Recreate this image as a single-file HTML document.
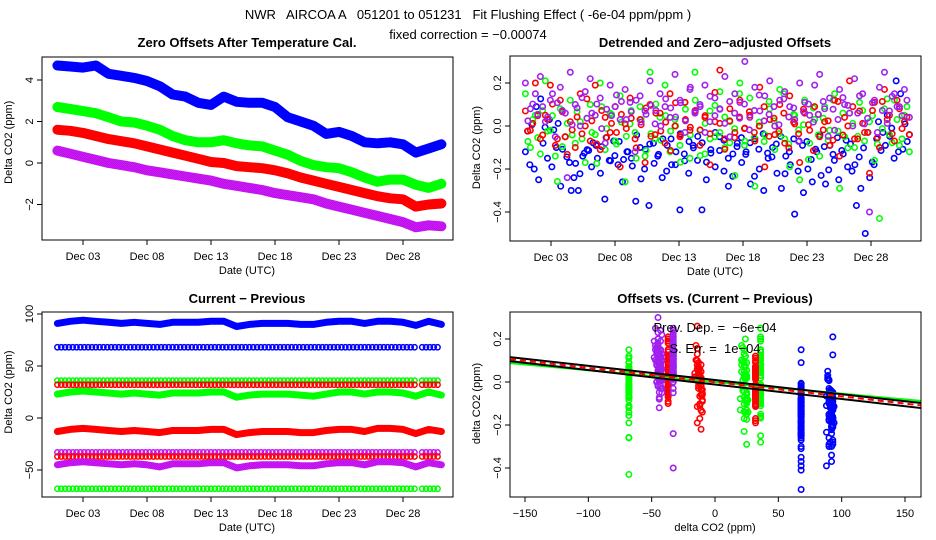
<!DOCTYPE html>
<html><head><meta charset="utf-8"><style>
body{margin:0;background:#fff}
svg{display:block;font-family:"Liberation Sans",sans-serif}
</style></head><body>
<svg id="c" width="936" height="540" viewBox="0 0 936 540">
<defs>
<pattern id="hatch" width="2" height="2" patternUnits="userSpaceOnUse"><rect width="2" height="2" fill="#ff00ff"/><rect width="1" height="1" fill="#8a2be2"/><rect x="1" y="1" width="1" height="1" fill="#8a2be2"/></pattern>
</defs>
<text x="468" y="19" font-size="13" text-anchor="middle" style="white-space:pre">NWR   AIRCOA A   051201 to 051231   Fit Flushing Effect ( -6e-04 ppm/ppm )</text>
<text x="468" y="39" font-size="13" text-anchor="middle">fixed correction = −0.00074</text>
<text x="247" y="47" font-size="13" font-weight="bold" text-anchor="middle">Zero Offsets After Temperature Cal.</text>
<text x="715" y="47" font-size="13" font-weight="bold" text-anchor="middle">Detrended and Zero−adjusted Offsets</text>
<text x="247" y="303" font-size="13" font-weight="bold" text-anchor="middle">Current − Previous</text>
<text x="715" y="303" font-size="13" font-weight="bold" text-anchor="middle">Offsets vs. (Current − Previous)</text>
</svg>
<script>
const days=[1,2,3,4,5,6,7,8,9,10,11,12,13,14,15,16,17,18,19,20,21,22,23,24,25,26,27,28,29,30,31];
const dateTicks=[3,8,13,18,23,28];
const dateTickLabels=["Dec 03","Dec 08","Dec 13","Dec 18","Dec 23","Dec 28"];
const p1Blue=[4.7,4.65,4.6,4.7,4.3,4.2,4.1,3.95,3.7,3.3,3.2,2.9,2.8,3.2,2.95,2.9,2.9,2.7,2.2,2.0,1.8,1.4,1.5,1.3,1.0,0.95,1.0,0.9,0.5,0.7,0.9];
const p1Green=[2.7,2.6,2.5,2.4,2.2,2.0,1.95,1.8,1.6,1.3,1.1,1.0,1.0,1.1,0.95,0.85,0.8,0.6,0.4,0.1,-0.1,-0.2,-0.25,-0.45,-0.7,-0.9,-0.8,-0.8,-1.05,-1.2,-1.0];
const p1Red=[1.6,1.55,1.45,1.3,1.15,1.05,0.95,0.8,0.65,0.5,0.35,0.2,0.05,0.0,-0.15,-0.2,-0.25,-0.35,-0.5,-0.7,-0.85,-1.0,-1.15,-1.3,-1.45,-1.6,-1.7,-1.75,-2.1,-2.0,-1.95];
const p1Purple=[0.6,0.45,0.3,0.15,0.0,-0.1,-0.2,-0.35,-0.45,-0.55,-0.65,-0.75,-0.85,-1.0,-1.1,-1.2,-1.3,-1.45,-1.55,-1.65,-1.75,-1.95,-2.1,-2.25,-2.4,-2.55,-2.7,-2.85,-3.1,-3.0,-3.05];
const p1Ticks=[-2,0,2,4];
const p2Ticks=[-0.4,-0.2,0.0,0.2];
const p2TickLabels=["−0.4","−0.2","0.0","0.2"];
const resBlue=[-0.12,-0.18,-0.20,-0.25,-0.08,-0.15,-0.19,-0.10,-0.28,-0.05,-0.17,-0.24,-0.30,-0.14,-0.11,-0.19,-0.09,-0.22,-0.34,-0.16,-0.07,-0.18,-0.26,-0.12,-0.15,-0.35,-0.10,-0.20,-0.37,-0.08,-0.14,-0.24,-0.21,-0.06,-0.18,-0.39,-0.13,-0.22,-0.09,-0.16,-0.39,-0.25,-0.11,-0.19,-0.05,-0.21,-0.28,-0.13,-0.08,-0.17,-0.12,-0.27,-0.06,-0.20,-0.30,-0.15,-0.10,-0.22,-0.29,-0.14,-0.18,-0.41,-0.07,-0.31,-0.20,-0.26,-0.12,-0.23,-0.27,-0.09,-0.16,-0.25,-0.13,-0.19,-0.21,-0.37,-0.29,-0.50,-0.24,-0.18,0.02,-0.03,0.05,-0.01,0.21,0.15,0.01,-0.04];
const resGreen=[0.15,-0.10,0.05,-0.13,0.21,-0.02,-0.14,0.08,-0.05,0.12,-0.08,0.02,-0.17,0.10,-0.04,0.20,-0.11,0.06,-0.07,0.14,-0.26,0.01,-0.03,0.09,-0.14,0.25,-0.06,0.04,0.19,-0.12,0.03,-0.09,0.11,-0.15,0.25,-0.02,-0.13,0.07,-0.05,0.16,-0.10,0.02,-0.23,0.20,-0.07,0.13,-0.28,0.00,-0.04,0.08,-0.11,0.17,-0.06,-0.19,0.05,-0.25,0.12,-0.08,0.03,-0.14,0.09,-0.02,0.15,-0.29,-0.05,0.06,-0.10,0.11,-0.07,0.02,-0.16,-0.43,0.08,-0.04,0.12,-0.09,0.05,-0.12];
const resRed=[0.07,-0.02,0.20,-0.06,0.05,0.19,-0.09,0.12,-0.05,0.02,-0.10,0.15,0.00,-0.07,0.19,-0.11,0.04,-0.03,0.09,-0.19,0.01,0.13,-0.06,0.03,-0.17,0.10,-0.04,0.06,-0.08,0.15,0.00,-0.05,0.11,-0.02,0.07,-0.09,0.04,-0.18,0.02,0.26,-0.06,0.08,-0.03,0.12,-0.01,0.05,-0.07,0.18,-0.19,0.03,-0.04,0.10,-0.08,0.14,0.01,-0.17,0.06,-0.02,0.09,-0.05,0.02,-0.09,0.12,-0.14,0.04,0.21,-0.06,0.07,-0.03,-0.22,0.11,-0.10,0.17,0.05,-0.07,0.08,0.02,-0.04];
const resPurple=[0.20,0.08,0.15,0.23,0.02,0.12,-0.05,0.18,0.06,0.25,0.10,0.00,0.16,0.22,0.05,0.13,-0.08,0.19,0.09,0.03,0.17,0.11,-0.12,0.14,0.07,0.21,0.01,0.15,0.09,0.04,0.24,0.12,-0.03,0.17,0.06,0.10,0.19,0.02,0.13,0.08,0.23,-0.05,0.15,0.11,0.30,0.04,0.18,0.07,0.14,0.21,0.00,0.12,0.16,0.09,0.03,0.20,0.11,0.05,0.19,0.24,0.08,0.13,-0.02,0.17,0.10,0.06,0.22,0.14,0.01,-0.40,0.12,0.18,0.25,0.07,0.15,0.09,0.17,0.04];
const p3Blue=[91,93,94,93,92,91,92,91,90,92,92,92,93,93,88,90,91,91,91,90,90,92,93,93,91,93,93,92,89,93,90];
const p3Green=[23,25,26,25,24,23,24,23,22,24,24,24,25,25,20,22,23,23,23,22,21,23,25,25,23,25,25,24,21,25,22];
const p3Red=[-13,-11,-10,-11,-12,-13,-12,-13,-14,-12,-12,-12,-11,-11,-16,-14,-13,-13,-13,-14,-14,-12,-11,-11,-13,-10,-10,-11,-15,-11,-13];
const p3Purple=[-45,-43,-42,-43,-44,-45,-44,-45,-47,-44,-44,-44,-43,-43,-48,-46,-45,-45,-45,-46,-46,-44,-43,-43,-45,-42,-42,-43,-47,-43,-45];
const constLevels=[68,36,32,-33,-37,-68];
const constColors=["#0000ff","#00ff00","#ff0000","url(#hatch)","#ff0000","#00ff00"];
const p3Ticks=[-50,0,50,100];
const p4XTicks=[-150,-100,-50,0,50,100,150];
const p4XTickLabels=["−150","−100","−50","0","50","100","150"];
const fitSlopes=[-5.4e-4,-6.56e-4,-6.7e-4,-6.6e-4];
const fitIntercepts=[0.0,0.009,-0.012,-0.001];
const fitColors=["#00ff00","#000","#000","#ff0000"];

const svg=document.getElementById('c');
const NS='http://www.w3.org/2000/svg';
function mk(tag,attrs,parent){const e=document.createElementNS(NS,tag);for(const k in attrs)e.setAttribute(k,attrs[k]);(parent||svg).appendChild(e);return e;}
function dateX(L){return d=>L+41+(d-3)*12.8;}
function linear(d0,d1,r0,r1){return v=>r0+(v-d0)*(r1-r0)/(d1-d0);}

function frame(L,T,R,B,name){
  const r=mk('rect',{x:L,y:T,width:R-L,height:B-T,fill:'none',stroke:'#000','stroke-width':1});
  
  
}
function yAxis(L,ticks,labels,ys,name,title){
  const g=mk('g',{});
  
  
  ticks.forEach((t,i)=>{const y=ys(t);
    mk('line',{x1:L-5,x2:L,y1:y,y2:y,stroke:'#000'},g);
    const tx=mk('text',{x:0,y:0,'font-size':11,'text-anchor':'middle',transform:`translate(${L-9},${y}) rotate(-90)`},g);
    tx.textContent=labels?labels[i]:String(t).replace('-','−');
  });
  const tt=mk('text',{'font-size':11,'text-anchor':'middle',transform:`translate(${L-30},${(ys(ticks[0])+ys(ticks[ticks.length-1]))/2}) rotate(-90)`},g);
  
  
  tt.textContent=title;
  return tt;
}
function xAxis(B,ticks,labels,xs,name,title,cx){
  const g=mk('g',{});
  
  
  ticks.forEach((t,i)=>{const x=xs(t);
    mk('line',{x1:x,x2:x,y1:B,y2:B+5,stroke:'#000'},g);
    const tx=mk('text',{x:x,y:B+20,'font-size':11,'text-anchor':'middle'},g);
    tx.textContent=labels[i];
  });
  const tt=mk('text',{x:cx,y:B+34,'font-size':11,'text-anchor':'middle'},g);
  
  
  tt.textContent=title;
}
// Panel 1
(function(){
  const L=42,T=57,R=453,B=240;const xs=dateX(L);const ys=linear(0,4,163,80);
  [[p1Purple,'url(#hatch)','purple'],[p1Red,'#ff0000','red'],[p1Green,'#00ff00','green'],[p1Blue,'#0000ff','blue']].forEach(([arr,col,n])=>{
    const pts=arr.map((v,i)=>xs(days[i]).toFixed(1)+','+ys(v).toFixed(1)).join(' ');
    const pl=mk('polyline',{points:pts,fill:'none',stroke:col,'stroke-width':10,'stroke-linejoin':'round','stroke-linecap':'round'});
    
    
  });
  frame(L,T,R,B,'panel1');
  yAxis(L,p1Ticks,null,ys,'panel1','Delta CO2 (ppm)');
  xAxis(B,dateTicks,dateTickLabels,xs,'panel1','Date (UTC)',247);
})();
// Panel 2
(function(){
  const L=510,T=56,R=921,B=241;const xs=dateX(L);const ys=linear(0,0.2,126,83);
  [[resBlue,'#0000ff','blue'],[resGreen,'#00ff00','green'],[resRed,'#ff0000','red'],[resPurple,'#a020f0','purple']].forEach(([arr,col,n])=>{
    const g=mk('g',{});
    
    
    const N=arr.length;
    arr.forEach((v,i)=>{const d=1+30*i/(N-1);
      mk('circle',{cx:xs(d),cy:ys(v),r:2.7,fill:'none',stroke:col,'stroke-width':1.6},g);
      const w=arr[N-1-i];const d2=1+30*(i+0.5)/N;
      mk('circle',{cx:xs(d2),cy:ys(w*0.6),r:2.7,fill:'none',stroke:col,'stroke-width':1.6},g);});
  });
  frame(L,T,R,B,'panel2');
  yAxis(L,p2Ticks,p2TickLabels,ys,'panel2','Delta CO2 (ppm)');
  xAxis(B,dateTicks,dateTickLabels,xs,'panel2','Date (UTC)',715);
})();
// Panel 3
(function(){
  const L=42,T=312,R=453,B=497;const xs=dateX(L);const ys=linear(0,50,418,366);
  constLevels.forEach((lv,j)=>{
    const g=mk('g',{});
    
    
    for(let d=1;d<=31;d+=0.3){ if(d>29.1&&d<29.5)continue;
      mk('circle',{cx:xs(d),cy:ys(lv),r:2.6,fill:'none',stroke:constColors[j],'stroke-width':1.5},g);}
  });
  [[p3Blue,'#0000ff','blue'],[p3Green,'#00ff00','green'],[p3Red,'#ff0000','red'],[p3Purple,'url(#hatch)','purple']].forEach(([arr,col,n])=>{
    const pts=arr.map((v,i)=>xs(days[i]).toFixed(1)+','+ys(v).toFixed(1)).join(' ');
    const pl=mk('polyline',{points:pts,fill:'none',stroke:col,'stroke-width':7,'stroke-linejoin':'round','stroke-linecap':'round'});
    
    
  });
  frame(L,T,R,B,'panel3');
  yAxis(L,p3Ticks,["−50","0","50","100"],ys,'panel3','Delta CO2 (ppm)');
  xAxis(B,dateTicks,dateTickLabels,xs,'panel3','Date (UTC)',247);
})();
// Panel 4
(function(){
  const L=510,T=312,R=921,B=497;const xs=linear(0,150,715,905);const ys=linear(0,0.2,382,339);
  const groups=[[resBlue,p3Blue,[null,68],'#0000ff','blue'],[resGreen,p3Green,[null,36,-68],'#00ff00','green'],[resRed,p3Red,[null,32,-37],'#ff0000','red'],[resPurple,p3Purple,[null,-33],'#a020f0','purple']];
  groups.forEach(([res,solid,levels,col,n])=>{
    const g=mk('g',{});
    
    
    res.forEach((v,i)=>{const lv=levels[i%levels.length];
      const di=Math.min(30,Math.round(30*i/(res.length-1)));
      const xv=lv===null?solid[di]:lv;
      mk('circle',{cx:xs(xv),cy:ys(v),r:2.7,fill:'none',stroke:col,'stroke-width':1.6},g);
      mk('circle',{cx:xs(xv),cy:ys(v*0.6),r:2.7,fill:'none',stroke:col,'stroke-width':1.6},g);});
  });
  fitSlopes.forEach((s,i)=>{
    const y0=ys(fitIntercepts[i]+s*(-163)),y1=ys(fitIntercepts[i]+s*163);
    const ln=mk('line',{x1:L,x2:R,y1:y0,y2:y1,stroke:fitColors[i],'stroke-width':2,'stroke-dasharray':i===3?'6,4':'none'});
    
    
  });
  const t1=mk('text',{x:715,y:332,'font-size':13,'text-anchor':'middle'});
  
  
  t1.setAttribute('style','white-space:pre');
  t1.textContent='Prev. Dep. =  −6e−04';
  const t2=mk('text',{x:715,y:353,'font-size':13,'text-anchor':'middle'});
  
  
  t2.setAttribute('style','white-space:pre');
  t2.textContent='S. Err. =  1e−04';
  frame(L,T,R,B,'panel4');
  yAxis(L,p2Ticks,p2TickLabels,ys,'panel4','delta CO2 (ppm)');
  xAxis(B,p4XTicks,p4XTickLabels,xs,'panel4','delta CO2 (ppm)',715);
})();
</script>
</body></html>
